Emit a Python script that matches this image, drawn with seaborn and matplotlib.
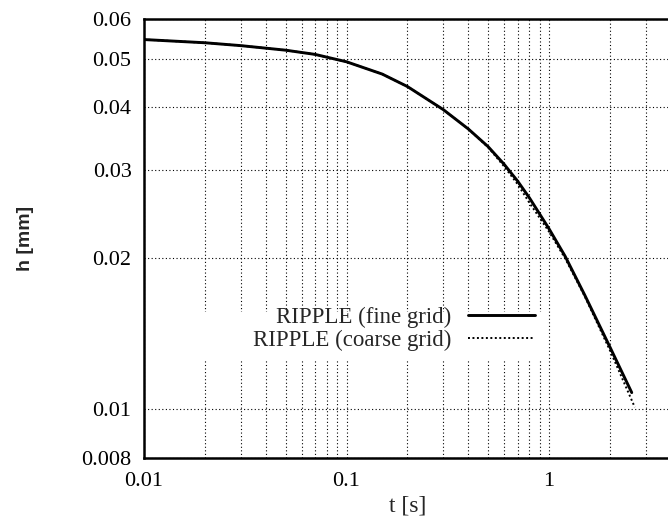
import matplotlib
matplotlib.use("Agg")
import matplotlib.pyplot as plt
import matplotlib.ticker as mticker
from matplotlib.patches import Rectangle
import seaborn as sns

# values (log-log)
t_fine = [0.01, 0.02, 0.03, 0.05, 0.07, 0.1, 0.15, 0.2, 0.3, 0.4, 0.5, 0.6, 0.7, 0.8, 1.0, 1.2, 1.5, 2.0, 2.56]
h_fine = [0.0546, 0.0538, 0.0531, 0.0520, 0.0510, 0.0493, 0.0466, 0.0440, 0.0396, 0.0362, 0.0334, 0.0308, 0.0285, 0.0264, 0.0229, 0.0202, 0.0169, 0.0133, 0.0108]

t_coarse = [0.01, 0.02, 0.03, 0.05, 0.07, 0.1, 0.15, 0.2, 0.3, 0.4, 0.5, 0.6, 0.7, 0.8, 1.0, 1.2, 1.5, 2.0, 2.65]
h_coarse = [0.0546, 0.0538, 0.0531, 0.0520, 0.0510, 0.0493, 0.0466, 0.0440, 0.0396, 0.0362, 0.0333, 0.0305, 0.0281, 0.0258, 0.0226, 0.0200, 0.0168, 0.0131, 0.0101]

labels = ["RIPPLE (fine grid)", "RIPPLE (coarse grid)"]
y_ticks = [0.008, 0.01, 0.02, 0.03, 0.04, 0.05, 0.06]
y_ticklabels = ["0.008", "0.01", "0.02", "0.03", "0.04", "0.05", "0.06"]
x_ticks = [0.01, 0.1, 1]
x_ticklabels = ["0.01", "0.1", "1"]

sns.set_style("white")
plt.rcParams["font.family"] = ["Liberation Serif", "DejaVu Serif"]

fig = plt.figure(figsize=(6.68, 5.23), dpi=100)
# x runs to 4, the right spine falls just outside the cropped picture
ax = fig.add_axes([144 / 668, 65 / 523, 527 / 668, 439 / 523])

ax.set_xscale("log")
ax.set_yscale("log")

sns.lineplot(x=t_fine, y=h_fine, ax=ax, color="black", linewidth=2.1,
             label=labels[0], sort=False)
sns.lineplot(x=t_coarse, y=h_coarse, ax=ax, color="black", linewidth=1.4,
             linestyle=(0, (1, 1.3)), label=labels[1], sort=False)

ax.set_xlim(0.01, 4)
ax.set_ylim(0.008, 0.06)

ax.xaxis.set_major_locator(mticker.FixedLocator(x_ticks))
ax.xaxis.set_major_formatter(mticker.FixedFormatter(x_ticklabels))
ax.xaxis.set_minor_locator(mticker.LogLocator(base=10, subs=range(2, 10)))
ax.xaxis.set_minor_formatter(mticker.NullFormatter())
ax.yaxis.set_major_locator(mticker.FixedLocator(y_ticks))
ax.yaxis.set_major_formatter(mticker.FixedFormatter(y_ticklabels))
ax.yaxis.set_minor_locator(mticker.NullLocator())

grid_kw = dict(color="black", linestyle=(0, (1, 2.2)), linewidth=0.8)
ax.grid(True, which="both", axis="x", **grid_kw)
ax.grid(True, which="major", axis="y", **grid_kw)

ax.tick_params(which="major", direction="in", length=7, width=1.5,
               labelsize=16, pad=9, colors="black")
ax.tick_params(which="minor", direction="in", length=3.5, width=1.0)
ax.tick_params(axis="x", pad=10)

for side in ["left", "bottom", "top", "right"]:
    ax.spines[side].set_visible(True)
    ax.spines[side].set_color("black")
    ax.spines[side].set_linewidth(1.8)

ax.set_xlabel("t [s]", fontsize=17, labelpad=3)
ax.set_ylabel("h [mm]", fontsize=14, fontweight="bold",
              family=["Liberation Sans", "DejaVu Sans"], labelpad=34)

# white key box that blanks the grid behind the legend
ax.add_patch(Rectangle((190 / 668, 1 - 359 / 523), 356 / 668, 47 / 523,
                       transform=fig.transFigure, facecolor="white",
                       edgecolor="none", zorder=1))

leg = ax.legend(loc="center right", bbox_to_anchor=(544 / 668, 1 - 329 / 523),
                bbox_transform=fig.transFigure, markerfirst=False, frameon=False,
                fontsize=16.5, handlelength=2.9, handletextpad=0.75,
                labelspacing=0.05, borderpad=0.4, borderaxespad=0)
leg._legend_box.align = "right"

fig.savefig("out.png", dpi=100)
